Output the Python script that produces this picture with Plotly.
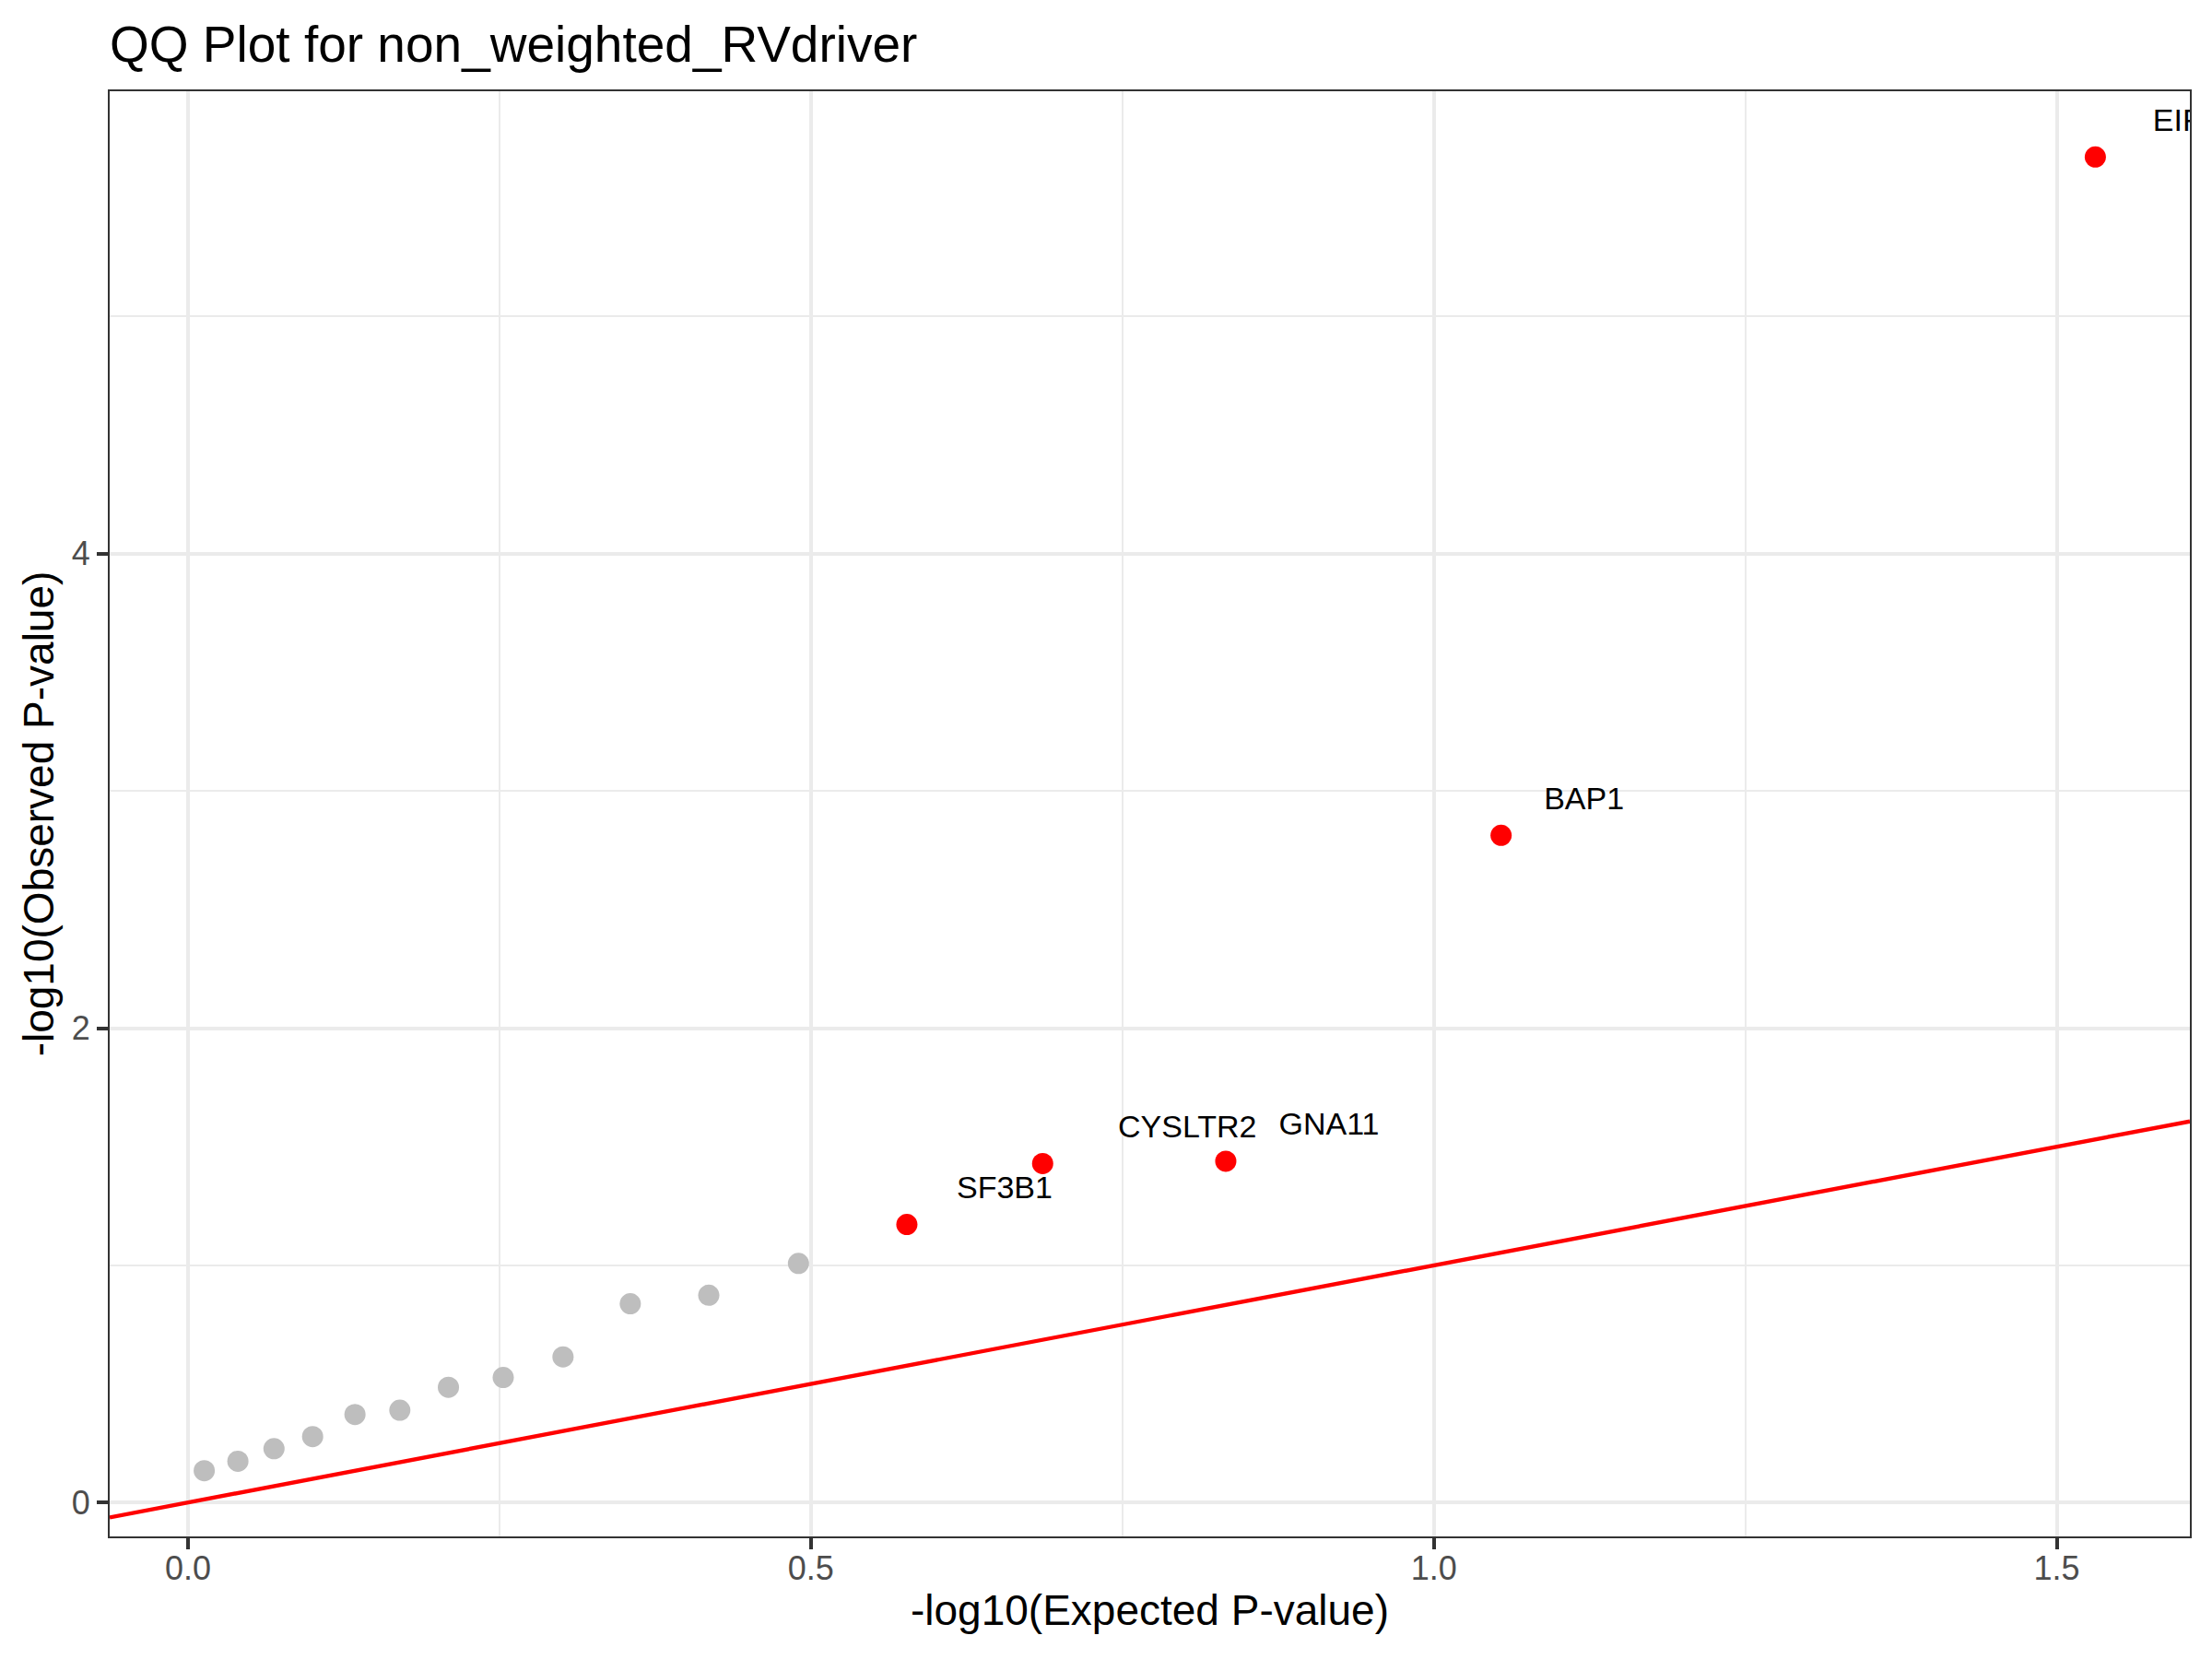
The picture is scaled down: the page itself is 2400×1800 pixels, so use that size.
import plotly.graph_objects as go

# QQ plot values
expected = [0.013, 0.040, 0.069, 0.100, 0.134, 0.170, 0.209, 0.253, 0.301,
            0.355, 0.418, 0.490, 0.577, 0.686, 0.833, 1.054, 1.531]
observed = [0.134, 0.174, 0.227, 0.278, 0.371, 0.389, 0.486, 0.527, 0.614,
            0.838, 0.874, 1.008, 1.172, 1.429, 1.439, 2.813, 5.673]
genes = ["", "", "", "", "", "", "", "", "", "", "", "",
         "SF3B1", "CYSLTR2", "GNA11", "BAP1", "EIF1AX"]

x_ticks = [0, 0.5, 1.0, 1.5]
x_tick_labels = ["0.0", "0.5", "1.0", "1.5"]
y_ticks = [0, 2, 4]
y_tick_labels = ["0", "2", "4"]

# label nudges in pixels (repel-style placement of the reference)
label_dx_px = [106, 157, 112, 90, 121]
label_dy_px = -37

# the page body has an 8px margin, so the figure is a bit smaller
W, H = 2384, 1784
ML, MR, MT, MB = 111, 16, 91, 125
FONT = "Liberation Sans, Arial, Helvetica, sans-serif"

# ggplot-like 5% expansion of the data range
xspan = max(expected) - min(expected)
yspan = max(observed) - min(observed)
xr = [min(expected) - 0.05 * xspan, max(expected) + 0.05 * xspan]
yr = [min(observed) - 0.05 * yspan, max(observed) + 0.05 * yspan]
px_x = (W - ML - MR) / (xr[1] - xr[0])
px_y = (H - MT - MB) / (yr[1] - yr[0])

hit = [g != "" for g in genes]
colors = ["#FF0000" if h else "#BEBEBE" for h in hit]

fig = go.Figure()

fig.add_trace(go.Scatter(
    x=expected, y=observed, mode="markers",
    marker=dict(size=23, color=colors, line=dict(width=0)),
    showlegend=False, hoverinfo="skip"))

fig.add_trace(go.Scatter(
    x=xr, y=xr, mode="lines",
    line=dict(color="#FF0000", width=4.4),
    showlegend=False, hoverinfo="skip"))

lab_x, lab_y, lab_t = [], [], []
k = 0
for xv, yv, g in zip(expected, observed, genes):
    if g:
        lab_x.append(xv + label_dx_px[k] / px_x)
        lab_y.append(yv - label_dy_px / px_y)
        lab_t.append(g)
        k += 1

fig.add_trace(go.Scatter(
    x=lab_x, y=lab_y, mode="text", text=lab_t,
    textposition="middle center", cliponaxis=True,
    textfont=dict(family=FONT, size=34, color="#000000"),
    showlegend=False, hoverinfo="skip"))

axis_common = dict(
    showgrid=True, gridcolor="#EBEBEB", gridwidth=4.2,
    zeroline=False, showline=True, linecolor="#333333", linewidth=2.2,
    mirror=True, ticks="outside", ticklen=12, tickwidth=4,
    tickcolor="#333333",
    tickfont=dict(family=FONT, size=36, color="#4D4D4D"),
)

fig.update_layout(
    width=W, height=H,
    margin=dict(l=ML, r=MR, t=MT, b=MB),
    paper_bgcolor="white", plot_bgcolor="white",
    font=dict(family=FONT, color="#000000"),
    title=dict(text="QQ Plot for non_weighted_RVdriver",
               font=dict(family=FONT, size=55, color="#000000"),
               x=0, xref="paper", xanchor="left",
               y=1 - 40 / H, yref="container", yanchor="middle"),
    xaxis=dict(range=xr, tickvals=x_ticks, ticktext=x_tick_labels,
               ticklabelstandoff=-10,
               minor=dict(tickvals=[0.25, 0.75, 1.25], showgrid=True,
                          gridcolor="#EBEBEB", gridwidth=2.2, ticks=""),
               title=dict(text="-log10(Expected P-value)",
                          font=dict(family=FONT, size=46, color="#000000"),
                          standoff=10),
               **axis_common),
    yaxis=dict(range=yr, tickvals=y_ticks, ticktext=y_tick_labels,
               minor=dict(tickvals=[1, 3, 5], showgrid=True,
                          gridcolor="#EBEBEB", gridwidth=2.2, ticks=""),
               title=dict(text="-log10(Observed P-value)",
                          font=dict(family=FONT, size=46, color="#000000"),
                          standoff=5),
               **axis_common),
)

fig.write_html("out.html")
